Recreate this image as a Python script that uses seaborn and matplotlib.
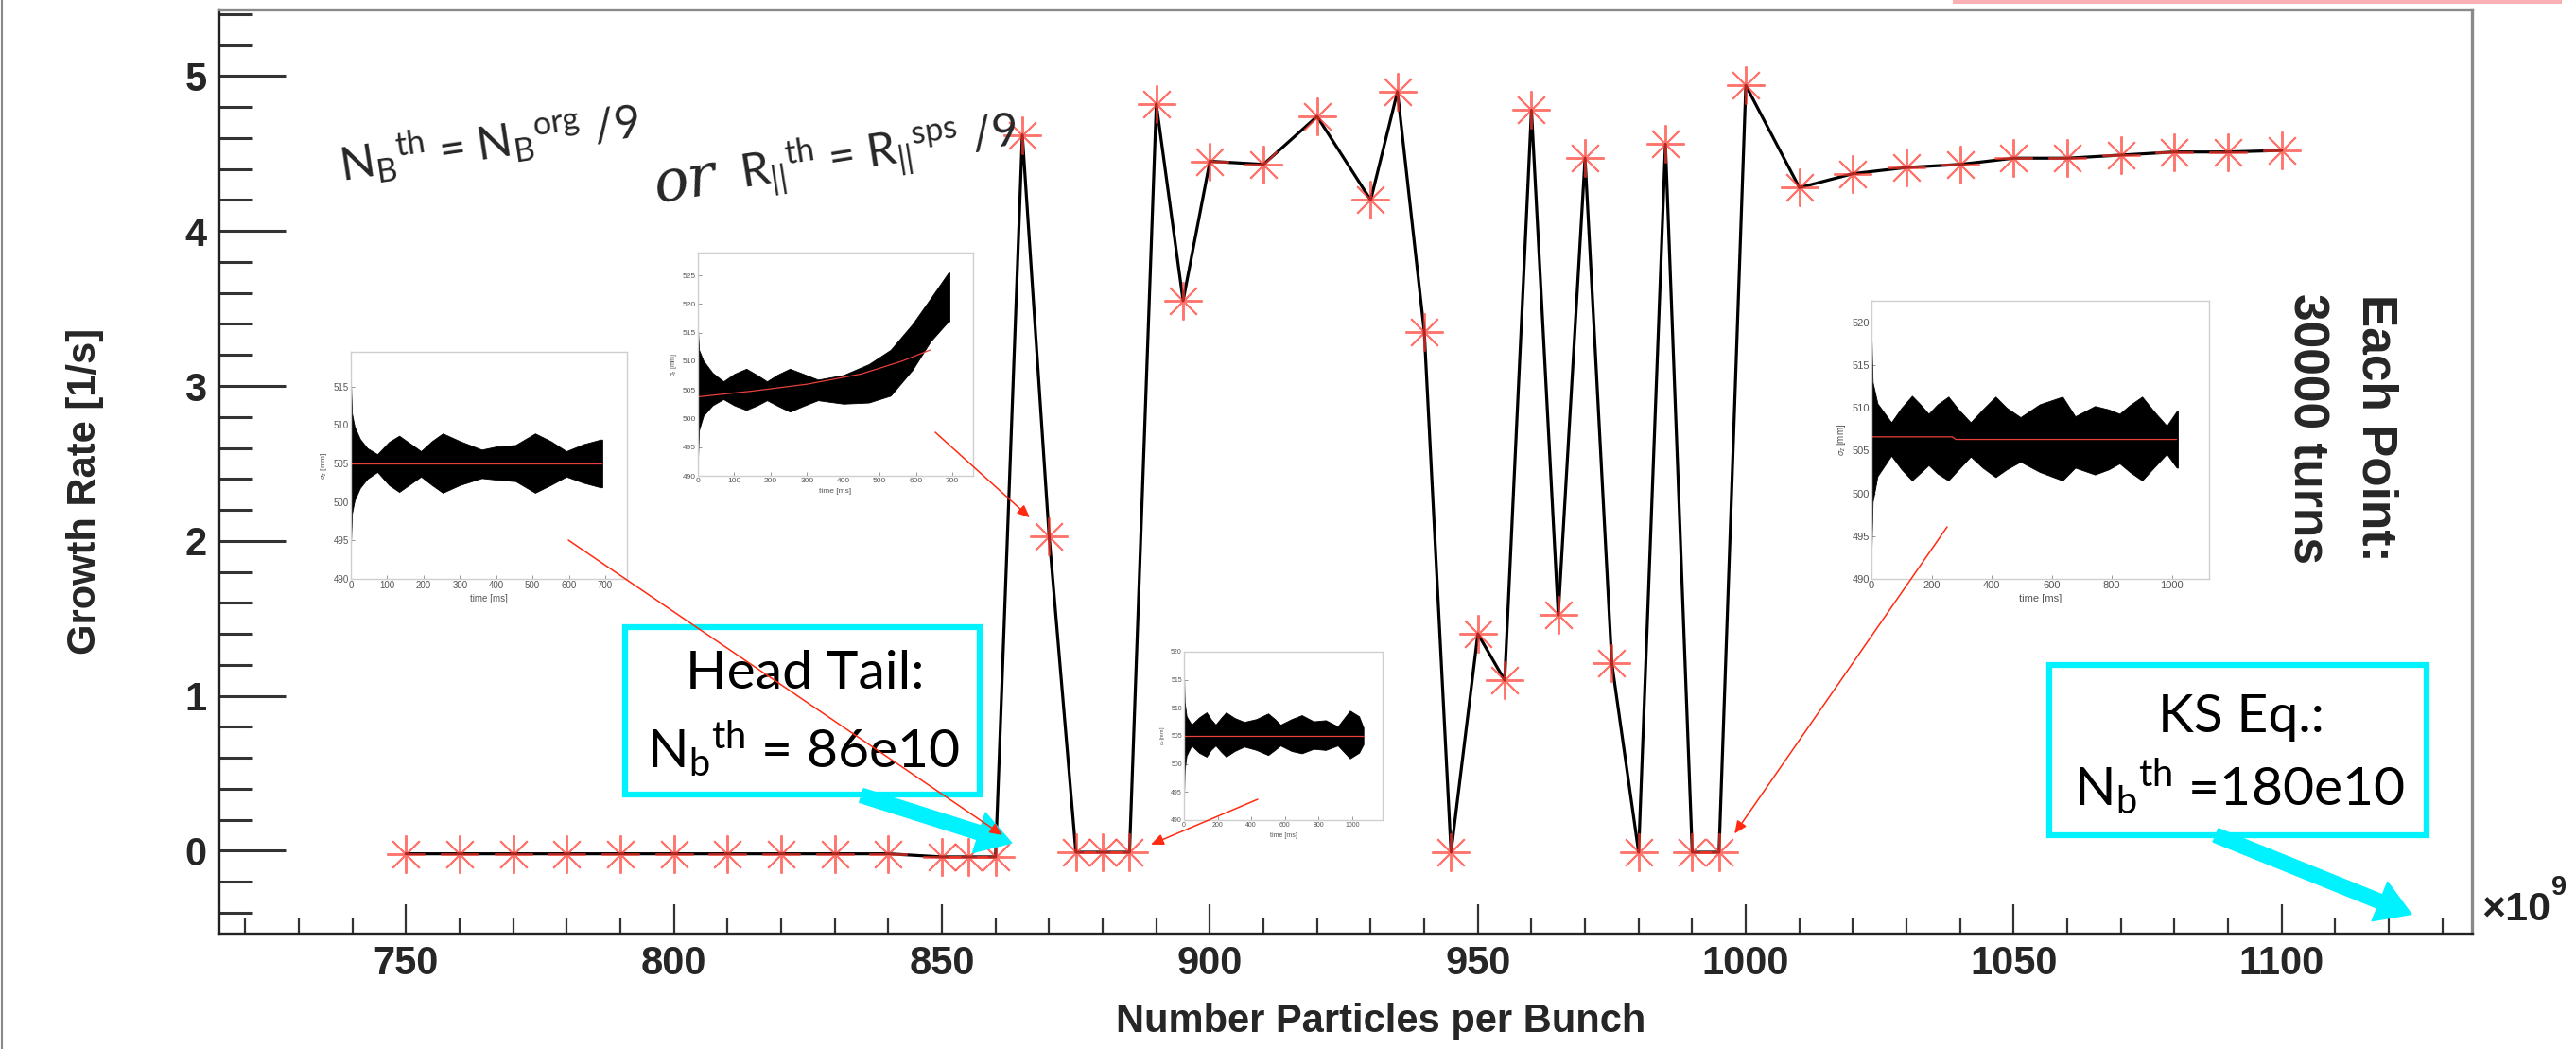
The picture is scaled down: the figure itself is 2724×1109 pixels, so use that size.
import numpy as np
import pandas as pd
import matplotlib
matplotlib.use("Agg")
import matplotlib.pyplot as plt
import seaborn as sns
from matplotlib.patches import Rectangle

# ---------------- data ----------------
n_particles = [750, 760, 770, 780, 790, 800, 810, 820, 830, 840,
               850, 855, 860, 865, 870, 875, 880, 885, 890, 895,
               900, 910, 920, 930, 935, 940, 945, 950, 955, 960,
               965, 970, 975, 980, 985, 990, 995, 1000, 1010, 1020,
               1030, 1040, 1050, 1060, 1070, 1080, 1090, 1100]
growth_rate = [-0.02, -0.02, -0.02, -0.02, -0.02, -0.02, -0.02, -0.02, -0.02, -0.02,
               -0.04, -0.04, -0.04, 4.62, 2.03, -0.01, -0.01, -0.01, 4.82, 3.55,
               4.45, 4.43, 4.74, 4.20, 4.90, 3.35, -0.01, 1.40, 1.10, 4.78,
               1.52, 4.47, 1.21, -0.01, 4.56, -0.01, -0.01, 4.94, 4.28, 4.37,
               4.41, 4.43, 4.47, 4.47, 4.49, 4.51, 4.51, 4.52]

x_major_ticks = [750, 800, 850, 900, 950, 1000, 1050, 1100]
y_major_ticks = [0, 1, 2, 3, 4, 5]

# inset 1 (bunch length vs time, stable)
t1 = [0, 3, 10, 25, 45, 73, 105, 133, 163, 193, 223, 253, 300, 360, 400, 453, 507, 550, 593, 640, 687, 692]
up1 = [515.5, 511.5, 509.8, 508.2, 507.0, 506.2, 507.8, 508.6, 507.6, 506.6, 507.9, 508.9, 507.9, 506.8, 507.2, 507.4, 508.9, 507.9, 506.6, 507.5, 508.1, 508.1]
lo1 = [494.5, 498.5, 500.2, 501.8, 503.0, 503.9, 502.2, 501.3, 502.3, 503.3, 502.2, 501.2, 502.2, 503.1, 502.9, 502.7, 501.2, 502.2, 503.3, 502.5, 501.9, 501.9]
fit_t1 = [0, 690]
fit_y1 = [505.0, 505.0]

# inset 2 (growing)
t2 = [0, 3, 15, 40, 70, 100, 133, 163, 190, 220, 253, 290, 330, 400, 470, 530, 590, 640, 689, 692]
up2 = [515.5, 512.0, 510.1, 508.0, 506.5, 507.8, 508.7, 507.6, 506.5, 507.7, 508.7, 507.8, 506.8, 507.6, 509.5, 512.0, 516.5, 521.0, 525.5, 525.5]
lo2 = [493.0, 498.0, 500.5, 502.3, 503.4, 502.3, 501.5, 502.3, 503.2, 502.2, 501.2, 502.2, 503.2, 502.6, 502.8, 504.0, 508.5, 513.5, 517.0, 517.0]
fit_t2 = [0, 150, 300, 450, 560, 640]
fit_y2 = [503.8, 504.8, 506.0, 507.8, 510.0, 512.0]

# inset 3 (small, stable)
t3 = [0, 4, 15, 45, 90, 134, 160, 188, 220, 250, 300, 358, 430, 500, 540, 573, 640, 700, 770, 842, 914, 986, 1040, 1066]
up3 = [516.0, 511.0, 508.5, 507.0, 508.3, 509.2, 508.0, 507.0, 508.2, 509.2, 508.2, 507.5, 508.0, 509.0, 508.0, 507.0, 508.0, 508.7, 507.6, 507.8, 506.7, 509.5, 508.5, 506.5]
lo3 = [494.0, 499.0, 501.5, 503.3, 502.0, 501.3, 502.5, 503.3, 502.2, 501.3, 502.3, 503.1, 502.5, 501.6, 502.5, 503.3, 502.3, 501.9, 502.7, 502.5, 503.3, 501.0, 502.0, 503.5]
fit_t3 = [0, 1066]
fit_y3 = [505.0, 505.0]

# inset 4 (right, stable)
t4 = [0, 4, 20, 66, 100, 135, 160, 190, 220, 256, 290, 330, 370, 413, 450, 496, 560, 636, 678, 744, 790, 826, 860, 901, 940, 983, 1016, 1020]
up4 = [518.3, 513.0, 510.5, 508.3, 510.0, 511.4, 510.5, 509.3, 510.4, 511.3, 509.8, 508.3, 509.8, 511.3, 510.0, 508.9, 510.4, 511.3, 509.0, 510.2, 509.8, 509.3, 510.3, 511.3, 509.6, 507.9, 509.6, 509.6]
lo4 = [493.3, 499.0, 502.0, 504.4, 502.8, 501.5, 502.3, 503.3, 502.3, 501.5, 502.8, 504.3, 503.0, 501.9, 502.8, 503.7, 502.5, 501.5, 503.0, 502.2, 502.8, 503.5, 502.5, 501.5, 503.0, 504.6, 503.0, 503.0]
fit_t4 = [0, 270, 280, 1016]
fit_y4 = [506.6, 506.6, 506.3, 506.3]

# ---------------- style ----------------
sns.set_theme(style="ticks")
plt.rcParams['font.family'] = ['Liberation Sans', 'DejaVu Sans']
plt.rcParams['mathtext.fontset'] = 'custom'
plt.rcParams['mathtext.rm'] = 'Lato'
plt.rcParams['mathtext.it'] = 'Lato:italic'
plt.rcParams['mathtext.bf'] = 'Lato:bold'

W, H = 2724, 1109
fig = plt.figure(figsize=(W / 100, H / 100), dpi=100)
fig.patch.set_facecolor('white')


def rect_px(l, t, r, b):
    return [l / W, 1 - b / H, (r - l) / W, (b - t) / H]


ax = fig.add_axes(rect_px(231, 10, 2614, 987))
df = pd.DataFrame({'n': n_particles, 'rate': growth_rate})

sns.lineplot(data=df, x='n', y='rate', ax=ax, color='black', lw=2.3,
             sort=False, estimator=None, errorbar=None, zorder=3)
sns.lineplot(data=df, x='n', y='rate', ax=ax, sort=False, estimator=None,
             errorbar=None, linestyle='none', marker=(8, 2, 0), markersize=29,
             markeredgecolor='#ff3a30', markeredgewidth=1.4, alpha=0.7,
             color='#ff3a30', zorder=4)

ax.set_xlim(715, 1135.5)
ax.set_ylim(-0.535, 5.43)
ax.set_xticks(x_major_ticks)
ax.set_xticks(np.arange(720, 1135, 10), minor=True)
ax.set_yticks(y_major_ticks)
ax.set_yticks(np.arange(-0.4, 5.41, 0.2), minor=True)
ax.set_xticklabels([str(v) for v in x_major_ticks], fontsize=30, fontweight='bold')
ax.set_yticklabels([str(v) for v in y_major_ticks], fontsize=30, fontweight='bold')
ax.tick_params(axis='y', which='major', direction='in', length=51, width=2.2, color='#333333', pad=9)
ax.tick_params(axis='y', which='minor', direction='in', length=26, width=2.2, color='#333333')
ax.tick_params(axis='x', which='major', direction='in', length=22, width=1.6, color='#333333', pad=9)
ax.tick_params(axis='x', which='minor', direction='in', length=11.5, width=1.6, color='#333333')
for s in ['left', 'bottom']:
    ax.spines[s].set_color('#222222')
    ax.spines[s].set_linewidth(2.4)
for s in ['top', 'right']:
    ax.spines[s].set_color('#8a8a8a')
    ax.spines[s].set_linewidth(2.4)
ax.set_xlabel('Number Particles per Bunch', fontsize=30, fontweight='bold')
ax.set_ylabel('Growth Rate [1/s]', fontsize=30, fontweight='bold')
ax.xaxis.set_label_coords(0.516, -0.0956)
ax.yaxis.set_label_coords(-0.0593, 0.479)
ax.xaxis.label.set_va('center')
ax.yaxis.label.set_va('center')


# ---------------- insets ----------------
def inset(rect, t, up, lo, ft, fy, xlim, ylim, xmaj, ymaj, fs):
    a = fig.add_axes(rect_px(*rect), zorder=5)
    a.set_facecolor('white')
    a.fill_between(t, lo, up, color='black', lw=0.6)
    sns.lineplot(x=ft, y=fy, ax=a, color='#e8403a', lw=0.9, estimator=None, errorbar=None)
    a.set_xlim(*xlim)
    a.set_ylim(*ylim)
    a.set_xticks(xmaj)
    a.set_yticks(ymaj)
    a.tick_params(direction='in', length=3, width=0.6, colors='#888888',
                  labelcolor='#555555', labelsize=fs, pad=1.5)
    for s in a.spines.values():
        s.set_color('#cfcfcf')
        s.set_linewidth(1.0)
    a.set_xlabel('time [ms]', fontsize=fs, color='#555555', labelpad=3)
    a.set_ylabel(r'$\sigma_z$ [mm]', fontsize=fs - 1, color='#555555', labelpad=3)
    return a


inset((371, 372, 663, 612), t1, up1, lo1, fit_t1, fit_y1, (0, 760), (490, 519.5),
      list(range(0, 701, 100)), list(range(490, 516, 5)), 7)
inset((738, 267, 1029, 503), t2, up2, lo2, fit_t2, fit_y2, (0, 757), (490, 529),
      list(range(0, 701, 100)), list(range(490, 526, 5)), 6)
inset((1252, 689, 1462, 867), t3, up3, lo3, fit_t3, fit_y3, (0, 1180), (490, 520),
      list(range(0, 1001, 200)), list(range(490, 521, 5)), 5)
inset((1979, 318, 2336, 612), t4, up4, lo4, fit_t4, fit_y4, (0, 1124), (490, 522.5),
      list(range(0, 1001, 200)), list(range(490, 521, 5)), 8)

# ---------------- overlay annotations (pixel coords) ----------------
ov = fig.add_axes([0, 0, 1, 1], zorder=10)
ov.set_xlim(0, W)
ov.set_ylim(H, 0)
ov.axis('off')
ov.patch.set_alpha(0)

cyan = '#00f2ff'
ov.add_patch(Rectangle((661, 663), 375, 177, fill=False, edgecolor=cyan, lw=4.5))
ov.add_patch(Rectangle((2167, 703), 399, 180, fill=False, edgecolor=cyan, lw=4.5))

box_font = dict(family=['Lato', 'DejaVu Sans'], fontsize=41, color='black',
                ha='center', va='center')
ov.text(851, 712, 'Head Tail:', **box_font)
ov.text(850, 792, r'N$_{\mathrm{b}}{}^{\mathrm{th}}$ = 86e10', **box_font)
ov.text(2370, 758, 'KS Eq.:', **box_font)
ov.text(2368, 832, r'N$_{\mathrm{b}}{}^{\mathrm{th}}$ =180e10', **box_font)

# cyan arrows
cy_arrow = dict(arrowstyle='simple,head_length=1.3,head_width=1.6,tail_width=0.55',
                mutation_scale=20, color=cyan, shrinkA=0, shrinkB=0)
ov.annotate('', xy=(863.0, 0.05), xycoords=ax.transData, xytext=(911, 841),
            textcoords='data', arrowprops=cy_arrow, annotation_clip=False)
ov.annotate('', xy=(1124.2, -0.41), xycoords=ax.transData, xytext=(2343, 883),
            textcoords='data', arrowprops=cy_arrow, annotation_clip=False)

# red pointer arrows
red_arrow = dict(arrowstyle='-|>,head_length=0.5,head_width=0.22', mutation_scale=16,
                 color='#ff2a10', lw=1.1, shrinkA=0, shrinkB=0)
ov.annotate('', xy=(861.3, 0.10), xycoords=ax.transData, xytext=(601, 571),
            textcoords='data', arrowprops=red_arrow, annotation_clip=False)
ov.annotate('', xy=(866.4, 2.15), xycoords=ax.transData, xytext=(989, 457),
            textcoords='data', arrowprops=red_arrow, annotation_clip=False)
ov.annotate('', xy=(889.0, 0.04), xycoords=ax.transData, xytext=(1330, 845),
            textcoords='data', arrowprops=red_arrow, annotation_clip=False)
ov.annotate('', xy=(997.9, 0.11), xycoords=ax.transData, xytext=(2059, 557),
            textcoords='data', arrowprops=red_arrow, annotation_clip=False)

# rotated formula texts
ov.text(361, 192, r'N$_{\mathrm{B}}{}^{\mathrm{th}}$ = N$_{\mathrm{B}}{}^{\mathrm{org}}$ /9',
        family=['Lato', 'DejaVu Sans'], fontsize=35, rotation=8.5,
        rotation_mode='anchor', ha='left', va='baseline')
ov.text(694, 214, 'or', family=['DejaVu Serif'], fontstyle='italic', fontsize=44,
        rotation=9, rotation_mode='anchor', ha='left', va='baseline')
ov.text(785, 200, r'R$_{\mathrm{||}}{}^{\mathrm{th}}$ = R$_{\mathrm{||}}{}^{\mathrm{sps}}$ /9',
        family=['Lato', 'DejaVu Sans'], fontsize=35, rotation=9,
        rotation_mode='anchor', ha='left', va='baseline')

# "Each Point" rotated text
ov.text(2512, 452, 'Each Point:', fontsize=37, fontweight='bold', rotation=-90,
        ha='center', va='center')
ov.text(2439, 453, '30000 turns', fontsize=37, fontweight='bold', rotation=-90,
        ha='center', va='center')

# axis multiplier
ov.text(2624, 962, '×10', family=['Liberation Sans', 'DejaVu Sans'],
        fontsize=31, fontweight='bold', ha='left', va='center', color='#222222')
ov.text(2698, 938, '9', family=['Liberation Sans', 'DejaVu Sans'],
        fontsize=21, fontweight='bold', ha='left', va='center', color='#222222')

# slide border details
ov.plot([2, 2], [0, H], color='#888888', lw=1.5)
ov.add_patch(Rectangle((2065, 0), 2709 - 2065, 4, color='#f9b0b5', lw=0))

fig.savefig('out.png', dpi=100, facecolor='white')
